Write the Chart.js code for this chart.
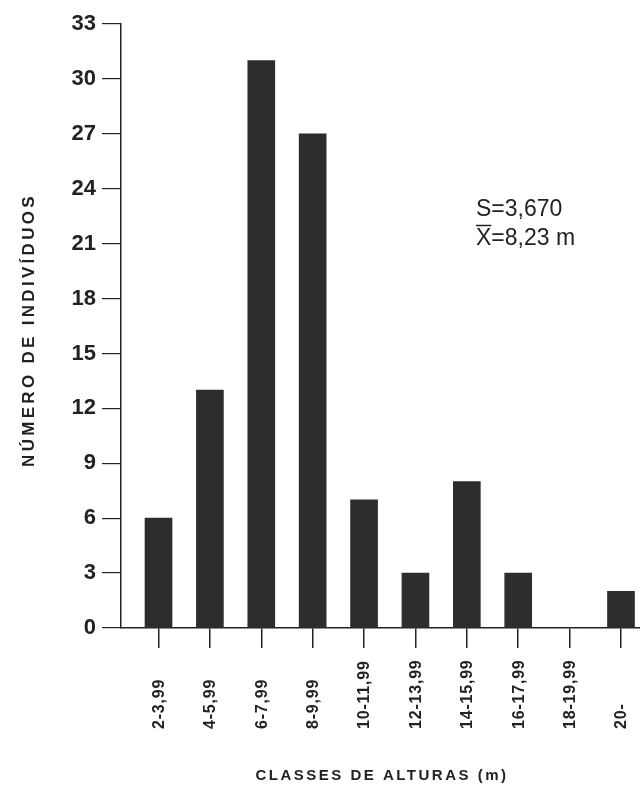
<!DOCTYPE html>
<html>
<head>
<meta charset="utf-8">
<script src="https://cdn.jsdelivr.net/npm/chart.js@4.4.1/dist/chart.umd.min.js"></script>
<style>
  html, body { margin: 0; background: #fff; }
</style>
</head>
<body>
<canvas id="alturas" width="640" height="812"></canvas>
<script>
const classes = ["2-3,99", "4-5,99", "6-7,99", "8-9,99", "10-11,99", "12-13,99", "14-15,99", "16-17,99", "18-19,99", "20-"];
const individuos = [6, 13, 31, 27, 7, 3, 8, 3, 0, 2];
const yTicks = [0, 3, 6, 9, 12, 15, 18, 21, 24, 27, 30, 33];

const ink = '#222';

// titles, rotated class labels and the S / X-bar note
const extras = {
  id: 'extras',
  afterDraw(chart) {
    const ctx = chart.ctx;
    const xs = chart.scales.x;
    ctx.save();
    ctx.fillStyle = ink;

    // class labels, read bottom to top, starting from the same baseline
    ctx.font = 'bold 16px "Liberation Sans", Arial, sans-serif';
    ctx.letterSpacing = '0.8px';
    ctx.textAlign = 'left';
    ctx.textBaseline = 'middle';
    classes.forEach((c, i) => {
      ctx.save();
      ctx.translate(xs.getPixelForValue(i) + 1, 729);
      ctx.rotate(-Math.PI / 2);
      ctx.fillText(c, 0, 0);
      ctx.restore();
    });

    // x title
    ctx.font = 'bold 15px "Liberation Sans", Arial, sans-serif';
    ctx.letterSpacing = '2.5px';
    ctx.textAlign = 'center';
    ctx.fillText('CLASSES DE ALTURAS (m)', 382, 776);

    // y title
    ctx.font = 'bold 17px "Liberation Sans", Arial, sans-serif';
    ctx.letterSpacing = '3.3px';
    ctx.save();
    ctx.translate(29, 330);
    ctx.rotate(-Math.PI / 2);
    ctx.fillText('NÚMERO DE INDIVÍDUOS', 0, 0);
    ctx.restore();

    // statistics note
    ctx.letterSpacing = '0px';
    ctx.font = '23px "Liberation Sans", Arial, sans-serif';
    ctx.textAlign = 'left';
    ctx.textBaseline = 'alphabetic';
    ctx.fillText('S=3,670', 476, 216);
    ctx.fillText('X=8,23 m', 476, 245);
    const xw = ctx.measureText('X').width;
    ctx.strokeStyle = ink;
    ctx.lineWidth = 1.5;
    ctx.beginPath();
    ctx.moveTo(476, 225.5);
    ctx.lineTo(476 + xw, 225.5);
    ctx.stroke();

    ctx.restore();
  }
};

new Chart(document.getElementById('alturas'), {
  type: 'bar',
  data: {
    datasets: [{
      data: individuos.map((v, i) => ({ x: i, y: v })),
      backgroundColor: '#2d2d2d',
      borderWidth: 0,
      barThickness: 27
    }]
  },
  options: {
    responsive: false,
    animation: false,
    layout: { padding: { top: 24, right: 0, left: 0, bottom: 0 } },
    scales: {
      x: {
        type: 'linear',
        offset: false,
        min: -0.73,
        max: 9.37,
        afterBuildTicks: (s) => { s.ticks = classes.map((c, i) => ({ value: i })); },
        afterFit: (s) => { s.height = 184; },
        grid: { offset: false, drawOnChartArea: false, drawTicks: true, tickLength: 20, color: ink, lineWidth: 1.5 },
        border: { display: true, color: ink, width: 1.5 },
        ticks: { display: false }
      },
      y: {
        min: 0,
        max: 33,
        afterBuildTicks: (s) => { s.ticks = yTicks.map(v => ({ value: v })); },
        afterFit: (s) => { s.width = 121; },
        grid: { drawOnChartArea: false, drawTicks: true, tickLength: 19, color: ink, lineWidth: 1.2 },
        border: { display: true, color: ink, width: 1.5 },
        ticks: {
          padding: 6,
          color: ink,
          font: { family: '"Liberation Sans", Arial, sans-serif', size: 22, weight: 'bold' }
        }
      }
    },
    plugins: {
      legend: { display: false },
      tooltip: { enabled: false }
    }
  },
  plugins: [extras]
});
</script>
</body>
</html>
